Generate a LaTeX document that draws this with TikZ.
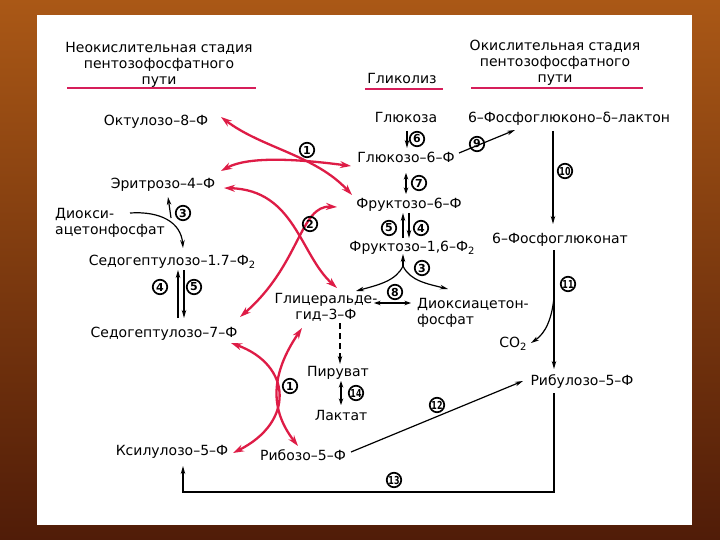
\documentclass[tikz,border=0pt]{standalone}
\usepackage{fontspec}
\setmainfont{DejaVu Sans}
\usepackage{graphicx}
\usetikzlibrary{arrows.meta}
\definecolor{redc}{RGB}{222,28,70}
\definecolor{lnred}{RGB}{214,30,90}
\definecolor{bgtop}{RGB}{170,88,22}
\definecolor{bgbot}{RGB}{80,28,8}
\newcommand\mfont{\fontsize{14}{16}\selectfont}
\newcommand\lowtwo{\raisebox{-0.5ex}{\fontsize{10}{10}\selectfont 2}}
\newcommand\twodig[1]{\scalebox{0.72}[1]{#1}}
\tikzset{
  lbl/.style={inner sep=0pt, text height=10.2pt, text depth=0pt, font=\mfont},
  mlbl/.style={inner sep=0pt, font=\fontsize{14}{16}\selectfont},
  num/.style={circle, draw, line width=1.7pt, inner sep=0pt, minimum size=14.5pt, font=\bfseries\fontsize{11}{11}\selectfont},
  blk/.style={line width=1.2pt, -{Stealth[length=8pt,width=4.5pt]}},
  blk2/.style={line width=1.2pt, {Stealth[length=6.5pt,width=4.5pt]}-{Stealth[length=6.5pt,width=4.5pt]}},
  rd/.style={draw=redc, line width=2.3pt, {Stealth[length=11pt,width=7pt]}-{Stealth[length=11pt,width=7pt]}},
  uline/.style={draw=lnred, line width=2pt},
}
\begin{document}
\begin{tikzpicture}[x=1pt,y=-1pt]
\useasboundingbox (0,0) rectangle (720,540);
\shade[top color=bgtop, bottom color=bgbot] (0,0) rectangle (720,540);
\fill[white] (37,15) rectangle (692,525);

% headers
\node[mlbl, align=center, anchor=north] (hL) at (159,42) {Неокислительная стадия\\пентозофосфатного\\пути};
\node[lbl] (hM) at (402,78) {Гликолиз};
\node[mlbl, align=center, anchor=north] (hR) at (555,40) {Окислительная стадия\\пентозофосфатного\\пути};
\draw[uline] (67,88) -- (256,88);
\draw[uline] (365,89) -- (443,89);
\draw[uline] (471,88) -- (643,88);

% metabolites
\node[lbl] (okt) at (156,120) {Октулозо–8–Ф};
\node[lbl] (ery) at (163,183) {Эритрозо–4–Ф};
\node[mlbl, align=left, anchor=north west] (dhapL) at (55,208) {Диокси-\\ацетонфосфат};
\node[lbl] (sed17) at (172,260) {Седогептулозо–1.7–Ф\lowtwo};
\node[lbl] (sed7) at (164,332) {Седогептулозо–7–Ф};
\node[lbl] (xyl) at (172,450) {Ксилулозо–5–Ф};
\node[lbl] (rib) at (303,455) {Рибозо–5–Ф};
\node[lbl] (glc) at (406,117) {Глюкоза};
\node[lbl] (g6p) at (406,157) {Глюкозо–6–Ф};
\node[lbl] (f6p) at (409,203) {Фруктозо–6–Ф};
\node[lbl] (f16) at (412,246) {Фруктозо–1,6–Ф\lowtwo};
\node[mlbl, align=center, anchor=north] (ga3p) at (326,293) {Глицеральде-\\гид–3–Ф};
\node[mlbl, align=left, anchor=north west] (dhap) at (417,298) {Диоксиацетон-\\фосфат};
\node[lbl] (pyr) at (338,371) {Пируват};
\node[lbl] (lac) at (341,415) {Лактат};
\node[lbl] (lact) at (569,117) {6–Фосфоглюконо–δ–лактон};
\node[lbl] (pgl) at (560,238) {6–Фосфоглюконат};
\node[lbl] (co2) at (513,342) {CO\lowtwo};
\node[lbl] (ru5p) at (582,380) {Рибулозо–5–Ф};

% glycolysis arrows
\draw[blk] ([shift={(1,14)}]glc.center) -- ([shift={(1,-9)}]g6p.center);
\draw[blk] ([shift={(53,-4)}]g6p.center) -- ([shift={(-54,13)}]lact.center);
\draw[blk2] ([shift={(0,16)}]g6p.center) -- ([shift={(-3,-9)}]f6p.center);
\draw[blk] ([shift={(-9,-8)}]f16.center) -- ([shift={(-6,10)}]f6p.center);
\draw[blk] ([shift={(0,10)}]f6p.center) -- ([shift={(-3,-8)}]f16.center);
\coordinate (j3) at ([shift={(-9,20)}]f16.center);
\draw[blk] (j3) -- ([shift={(-9,8)}]f16.center);
\draw[blk] (j3) .. controls (396,281) and (378,285) .. ([shift={(30,-2)}]ga3p.north);
\draw[blk] (j3) .. controls (410,281) and (428,284) .. ([shift={(31,-9)}]dhap.north west);
\draw[blk2] ([shift={(48,10)}]ga3p.north) -- ([shift={(-6,5)}]dhap.north west);
\draw[blk, dash pattern=on 6pt off 4pt] ([shift={(14,30)}]ga3p.north) -- ([shift={(2,-7)}]pyr.center);
\draw[blk2] ([shift={(3,10)}]pyr.center) -- ([shift={(0,-10)}]lac.center);

% oxidative branch
\draw[blk] ([shift={(-16,14)}]lact.center) -- ([shift={(-7,-14)}]pgl.center);
\draw[blk] ([shift={(-6,12)}]pgl.center) -- ([shift={(-28,-11)}]ru5p.center);
\coordinate (b11) at (554,297);
\draw[blk] (b11) .. controls (552,318) and (546,333) .. ([shift={(18,1)}]co2.center);
\draw[blk] ([shift={(48,-3)}]rib.center) -- ([shift={(-59,1)}]ru5p.center);
\coordinate (c13a) at (554,492);
\coordinate (c13b) at (183,492);
\draw[blk] ([shift={(-28,13)}]ru5p.center) -- (c13a) -- (c13b) -- ([shift={(11,16)}]xyl.center);

% left side
\draw[blk] ([shift={(75,5)}]dhapL.north west) .. controls (160,211) and (181,222) .. ([shift={(11,-12)}]sed17.center);
\coordinate (j3l) at (171,218);
\draw[blk] (j3l) -- ([shift={(5,14)}]ery.center);
\draw[blk] ([shift={(14,-14)}]sed7.center) -- ([shift={(6,10)}]sed17.center);
\draw[blk] ([shift={(12,10)}]sed17.center) -- ([shift={(20,-14)}]sed7.center);

% red transketolase / transaldolase
\draw[rd] ([shift={(65,-3)}]okt.center) .. controls (262,148) and (315,155) .. ([shift={(-57,-8)}]f6p.center);
\draw[rd] ([shift={(58,-12)}]ery.center) .. controls (250,155) and (305,160) .. ([shift={(-55,9)}]g6p.center);
\draw[rd] ([shift={(61,5)}]ery.center) .. controls (295,190) and (300,255) .. ([shift={(11,-5)}]ga3p.north);
\draw[rd] ([shift={(-72,4)}]f6p.center) .. controls (300,205) and (300,265) .. ([shift={(76,-15)}]sed7.center);
\draw[rd] ([shift={(67,11)}]sed7.center) .. controls (292,365) and (295,422) .. ([shift={(61,3)}]xyl.center);
\draw[rd] ([shift={(-24,35)}]ga3p.north) .. controls (270,375) and (270,410) .. ([shift={(-5,-9)}]rib.center);

% enzyme numbers
\node[num] (n1a) at (307,150) {1};
\node[num] (n2) at (310,224) {2};
\node[num] (n1b) at (290,386) {1};
\node[num] (n3l) at (183,213) {3};
\node[num] (n4l) at (160,287) {4};
\node[num] (n5l) at (194,287) {5};
\node[num] (n6) at (417,139) {6};
\node[num] (n7) at (419,183) {7};
\node[num] (n5m) at (389,228) {5};
\node[num] (n4m) at (421,228) {4};
\node[num] (n3m) at (422,268) {3};
\node[num] (n8) at (395,292) {8};
\node[num] (n9) at (477,144) {9};
\node[num] (n10) at (565,171) {\twodig{10}};
\node[num] (n11) at (568,284) {\twodig{11}};
\node[num] (n12) at (437,405) {\twodig{12}};
\node[num] (n13) at (394,480) {\twodig{13}};
\node[num] (n14) at (356,393) {\twodig{14}};
\end{tikzpicture}
\end{document}
